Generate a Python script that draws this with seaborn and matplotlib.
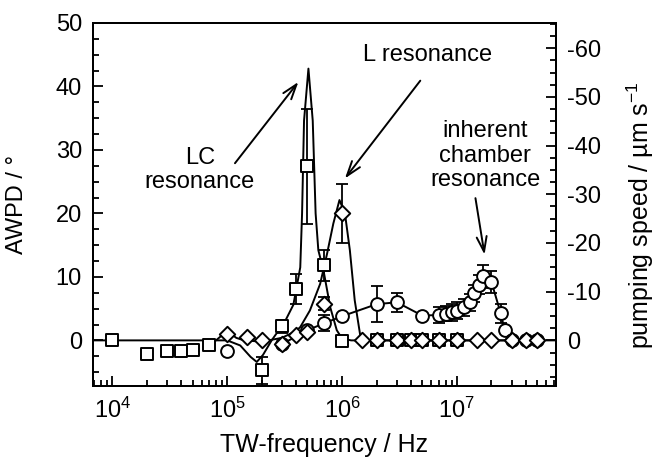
import seaborn as sns
import matplotlib.pyplot as plt
from matplotlib.ticker import MultipleLocator, LogLocator, NullFormatter, FixedLocator

# squares (LC series)
sq_f = [1e4, 2e4, 3e4, 4e4, 5e4, 7e4, 2e5, 3e5, 4e5, 5e5, 7e5, 1e6, 2e6, 3e6, 4e6, 5e6, 7e6, 1e7]
sq_v = [0, -2.2, -1.7, -1.6, -1.5, -0.8, -4.7, 2.2, 8.1, 27.4, 11.8, -0.1, 0, 0, 0, 0, 0, 0]
sq_err = [0, 0, 0, 0, 0, 0, 2.1, 1.0, 2.3, 9.0, 2.4, 0, 0, 0, 0, 0, 0, 0]

# diamonds (L series)
di_f = [1e5, 1.5e5, 2e5, 3e5, 4e5, 5e5, 7e5, 1e6, 1.5e6, 2e6, 3e6, 4e6, 5e6, 7e6, 1e7, 1.5e7, 2e7, 3e7, 4e7, 5e7]
di_v = [1.05, 0.5, 0, -0.6, 0.8, 1.3, 5.8, 20.0, 0.1, 0, 0, 0, 0, 0, 0, 0, 0, 0, 0, 0]
di_err = [0, 0, 0, 0, 0, 0, 1.0, 4.7, 0, 0, 0, 0, 0, 0, 0, 0, 0, 0, 0, 0]

# circles (chamber series)
ci_f = [1e5, 3e5, 5e5, 7e5, 1e6, 2e6, 3e6, 5e6, 7e6, 8e6, 9e6, 1e7, 1.15e7, 1.3e7, 1.4e7,
        1.55e7, 1.7e7, 2e7, 2.4e7, 2.6e7, 3e7, 4e7, 5e7]
ci_v = [-1.6, -0.6, 1.6, 2.7, 3.8, 5.7, 6.0, 3.9, 4.0, 4.2, 4.4, 4.7, 5.2, 6.0, 7.4,
        8.8, 10.1, 9.2, 4.3, 1.7, 0, 0, 0]
ci_err = [0, 0, 0, 1.3, 0, 2.8, 1.5, 0, 1.2, 1.2, 1.3, 1.3, 1.3, 1.3, 1.3,
          1.5, 1.8, 1.8, 1.5, 0, 0, 0, 0]

# fitted curves
lc_fit_f = [6.8e3, 1e5, 1.3e5, 1.6e5, 1.81e5, 2.05e5, 2.44e5, 3.19e5, 3.77e5, 4.33e5, 4.49e5,
            4.67e5, 5.1e5, 5.56e5, 5.89e5, 6.22e5, 6.9e5, 7.9e5, 9e5, 1e6, 1.2e6, 7.3e7]
lc_fit_v = [0, 0, -0.8, -2.6, -3.4, -2.3, 0, 3.0, 5.6, 11.5, 20, 34.6, 42.8, 34.6, 20, 14.2,
            11.0, 5.2, 1.6, 0.3, 0, 0]
l_fit_f = [8e4, 1e5, 1.2e5, 1.4e5, 2e5, 3e5, 4e5, 4.33e5, 5.25e5, 6.45e5, 7.4e5, 8.4e5,
           9.5e5, 1.06e6, 1.17e6, 1.29e6, 1.44e6, 1.6e6, 5e7]
l_fit_v = [0, 1.5, 0.4, 0, -0.2, 0.4, 1.5, 2.1, 4.7, 8.9, 13.6, 18.4, 22.1, 20, 14.2, 6.3, 0.8, 0, 0]

sns.set_theme(style="ticks")
plt.rcParams['font.family'] = ['Liberation Sans', 'DejaVu Sans']
plt.rcParams['axes.unicode_minus'] = False
plt.rcParams['mathtext.fontset'] = 'custom'
plt.rcParams['mathtext.rm'] = 'Liberation Sans'
plt.rcParams['mathtext.default'] = 'regular'
plt.rcParams['text.color'] = 'black'
plt.rcParams['axes.labelcolor'] = 'black'

fs = 17
fig = plt.figure(figsize=(6.55, 4.58), dpi=100)
ax = fig.add_axes([0.142, 0.157, 0.707, 0.793])
ax.set_xscale('log')

sns.lineplot(x=lc_fit_f, y=lc_fit_v, ax=ax, color='black', lw=1.4, sort=False, estimator=None)
sns.lineplot(x=l_fit_f, y=l_fit_v, ax=ax, color='black', lw=1.4, sort=False, estimator=None)
sns.lineplot(x=ci_f[1:], y=ci_v[1:], ax=ax, color='black', lw=1.4, sort=False, estimator=None)

for f, v, e in [(sq_f, sq_v, sq_err), (di_f, di_v, di_err), (ci_f, ci_v, ci_err)]:
    ax.errorbar(f, v, yerr=e, fmt='none', ecolor='black', elinewidth=1.3, capsize=4, capthick=1.3, zorder=3)

sns.scatterplot(x=ci_f, y=ci_v, ax=ax, marker='o', s=85, color='white', edgecolor='black', linewidth=1.4, zorder=4)
sns.scatterplot(x=sq_f, y=sq_v, ax=ax, marker='s', s=75, color='white', edgecolor='black', linewidth=1.4, zorder=5)
sns.scatterplot(x=di_f, y=di_v, ax=ax, marker='D', s=62, color='white', edgecolor='black', linewidth=1.4, zorder=6)

ax.set_xlim(6.8e3, 7.3e7)
ax.set_ylim(-7.2, 50)
ax.xaxis.set_major_locator(FixedLocator([1e4, 1e5, 1e6, 1e7]))
ax.xaxis.set_minor_locator(LogLocator(base=10, subs=range(2, 10), numticks=20))
ax.xaxis.set_minor_formatter(NullFormatter())
ax.yaxis.set_major_locator(MultipleLocator(10))
ax.yaxis.set_minor_locator(MultipleLocator(2.5))
ax.tick_params(which='both', direction='in', labelsize=fs, width=1.3, color='black', labelcolor='black')
ax.tick_params(which='major', length=7, pad=8)
ax.tick_params(which='minor', length=4)
for s in ax.spines.values():
    s.set_linewidth(1.4)
    s.set_color('black')

ax.set_xlabel("TW-frequency / Hz", fontsize=18)
ax.set_ylabel("AWPD / °", fontsize=fs)
ax.xaxis.set_label_coords(0.5, -0.13)
ax.yaxis.set_label_coords(-0.14, 0.5)

ax2 = ax.twinx()
ax2.set_ylim(9.4, -65.2)
ax2.yaxis.set_major_locator(MultipleLocator(10))
ax2.yaxis.set_minor_locator(MultipleLocator(2.5))
ax2.tick_params(which='both', direction='in', labelsize=fs, width=1.3, color='black', labelcolor='black')
ax2.tick_params(which='major', length=7, pad=8)
ax2.tick_params(which='minor', length=4)
ax2.set_ylabel("pumping speed / µm s$^{-1}$", fontsize=18)
ax2.yaxis.set_label_coords(1.148, 0.47)
for s in ax2.spines.values():
    s.set_linewidth(1.4)
    s.set_color('black')

arrow = dict(arrowstyle='->,head_length=0.9,head_width=0.3', lw=1.4, color='black',
             shrinkA=0, shrinkB=0)
ax.text(5.8e4, 26.8, "LC\nresonance", fontsize=fs, ha='center', va='center', linespacing=1.15)
ax.annotate('', xy=(4.17e5, 40.7), xytext=(1.17e5, 27.9), arrowprops=arrow)
ax.text(5.6e6, 44.9, "L resonance", fontsize=fs, ha='center', va='center')
ax.annotate('', xy=(1.06e6, 25.5), xytext=(4.8e6, 40.9), arrowprops=arrow)
ax.text(1.77e7, 29.1, "inherent\nchamber\nresonance", fontsize=fs, ha='center', va='center', linespacing=1.15)
ax.annotate('', xy=(1.74e7, 13.5), xytext=(1.45e7, 22.4), arrowprops=arrow)

fig.savefig("out.png", dpi=100)
